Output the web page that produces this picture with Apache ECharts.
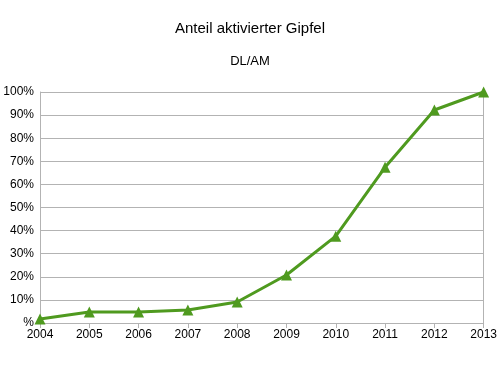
<!DOCTYPE html>
<html><head><meta charset="utf-8">
<script src="https://cdn.jsdelivr.net/npm/echarts@6/dist/echarts.min.js"></script>
<style>html,body{margin:0;padding:0;background:#fff}#c{width:500px;height:369px}</style>
</head><body><div id="c"></div>
<script>
const years = ['2004','2005','2006','2007','2008','2009','2010','2011','2012','2013'];
const values = [1.7, 4.8, 4.8, 5.6, 9.1, 20.8, 37.6, 67.4, 92.2, 100];
const chart = echarts.init(document.getElementById('c'));
chart.setOption({
  animation:false,
  backgroundColor:'#fff',
  title:[
    {text:'Anteil aktivierter Gipfel', left:'center', top:16, textStyle:{fontFamily:'Liberation Sans', fontSize:15, fontWeight:'normal', color:'#000'}},
    {text:'DL/AM', left:'center', top:50, textStyle:{fontFamily:'Liberation Sans', fontSize:13, fontWeight:'normal', color:'#000'}}
  ],
  grid:{left:40, right:15, top:92, bottom:46},
  xAxis:{type:'category', data:years, boundaryGap:false,
    axisLine:{lineStyle:{color:'#b3b3b3'}},
    axisTick:{show:true, length:5, lineStyle:{color:'#b3b3b3'}},
    axisLabel:{color:'#000', fontFamily:'Liberation Sans', fontSize:12, margin:6},
    splitLine:{show:false}},
  yAxis:[{type:'value', min:0, max:100, interval:10,
    axisLine:{show:true, lineStyle:{color:'#b3b3b3'}},
    axisTick:{show:false},
    axisLabel:{color:'#000', fontFamily:'Liberation Sans', fontSize:12, margin:6, formatter:v=> v===0?'%':v+'%'},
    splitLine:{lineStyle:{color:'#b3b3b3'}}},
    {type:'value', min:0, max:100, position:'right', axisLine:{show:true,lineStyle:{color:'#b3b3b3'}}, axisLabel:{show:false}, axisTick:{show:false}, splitLine:{show:false}}],
  series:[{type:'line', data:values, symbol:'triangle', symbolSize:11,
    lineStyle:{color:'#4f9a1f', width:3}, itemStyle:{color:'#4f9a1f'}}]
});
</script></body></html>
